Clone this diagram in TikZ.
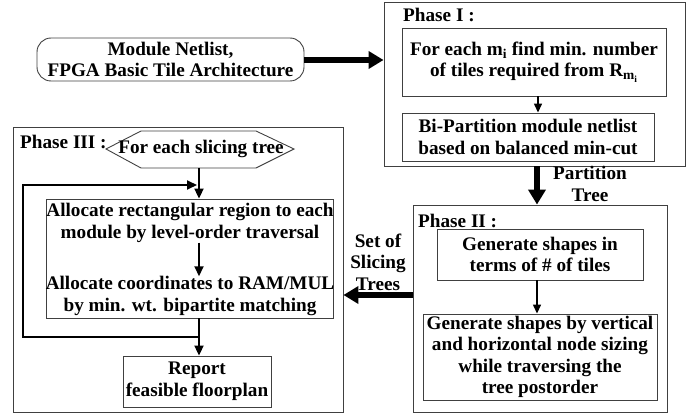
\documentclass[tikz,border=0pt]{standalone}
\usepackage{fontspec}
\setmainfont{Liberation Serif}
\usetikzlibrary{arrows.meta}
\begin{document}
\begin{tikzpicture}[x=1pt,y=-1pt,
  font=\fontsize{19.2}{21.5}\selectfont\bfseries,
  frame/.style={draw=black!75, line width=0.9pt, inner sep=0pt},
  box/.style={draw=black!75, line width=0.9pt, inner sep=0pt, align=center},
  txt/.style={inner sep=0pt, align=center},
  lbl/.style={inner sep=0pt, anchor=base west},
  thin/.style={line width=1.4pt, -{Triangle[length=9pt,width=8pt]}},
  mid/.style={line width=2pt, -{Triangle[length=10pt,width=9pt]}},
  thick/.style={line width=6.5pt, -{Triangle[length=15pt,width=17pt]}},
  loopline/.style={line width=2pt}
]
\useasboundingbox (0,0) rectangle (699,417);
% start
\node[box, rounded corners=14pt, minimum width=267pt, minimum height=43pt] (start) at (170.5,59.5) {Module Netlist,\\FPGA Basic Tile Architecture};
% Phase I
\node[frame, minimum width=301pt, minimum height=164pt] (ph1) at (534.5,84) {};
\node[lbl] (ph1l) at (403,22) {Phase I :};
\node[box, minimum width=264pt, minimum height=68pt] (p1a) at (534,62) {For each m\textsubscript{i} find min. number\\of tiles required from R\textsubscript{m\textsubscript{i}}};
\node[box, minimum width=252pt, minimum height=48pt] (p1b) at (528,137) {Bi-Partition module netlist\\based on balanced min-cut};
\draw[thin] (p1a.south -| 538,0) -- (p1b.north -| 538,0);
\draw[thick] (start.east |- 0,60) -- (ph1.west |- 0,60);
% Phase II
\node[frame, minimum width=254pt, minimum height=207pt] (ph2) at (540,308.5) {};
\node[lbl] (ph2l) at (418,227) {Phase II :};
\node[box, minimum width=206pt, minimum height=51pt] (p2a) at (540,254.5) {Generate shapes in\\terms of \# of tiles};
\node[box, minimum width=234pt, minimum height=86pt] (p2b) at (540,357) {Generate shapes by vertical\\and horizontal node sizing\\while traversing the\\tree postorder};
\draw[thin] (p2a.south -| 537,0) -- (p2b.north -| 537,0);
% Partition tree arrow
\draw[thick] (ph1.south -| 537,0) -- (ph2.north -| 537,0);
\node[txt] (ptl) at (590,184) {Partition\\Tree};
% Phase III
\node[frame, minimum width=330pt, minimum height=285pt] (ph3) at (178,269.5) {};
\node[lbl] (ph3l) at (20,149) {Phase III :};
\draw[line width=0.9pt, draw=black!75] (106,149) -- (141,131) -- (256,131) -- (294,149) -- (256,168) -- (141,168) -- cycle;
\node[txt] (hex) at (201,149) {For each slicing tree};
\coordinate (hexs) at (199,168);
\node[frame, minimum width=287pt, minimum height=119pt] (c) at (189.5,258.5) {};
\node[txt] (c1) at (190,223) {Allocate rectangular region to each\\module by level-order traversal};
\node[txt] (c2) at (190,296) {Allocate coordinates to RAM/MUL\\by min. wt. bipartite matching};
\node[box, minimum width=148pt, minimum height=51pt] (rep) at (197,381.5) {Report\\feasible floorplan};
\draw[mid] (hexs) -- (c.north -| hexs);
\draw[mid] ([xshift=9pt]c1.south) -- ([xshift=9pt]c2.north);
\draw[mid] (c.south -| hexs) -- (rep.north -| hexs);
\coordinate (lp1) at (199,337);
\coordinate (lp2) at (23,337);
\coordinate (lp3) at (23,185);
\coordinate (lp4) at (197,185);
\draw[loopline, -{Triangle[length=10pt,width=9pt]}, line join=miter] (lp1) -- (lp2) -- (lp3) -- (lp4);
% Set of slicing trees
\draw[thick] (ph2.west |- 0,295) -- (ph3.east |- 0,295);
\node[txt] (stl) at (378,262) {Set of\\Slicing\\Trees};
\end{tikzpicture}
\end{document}
